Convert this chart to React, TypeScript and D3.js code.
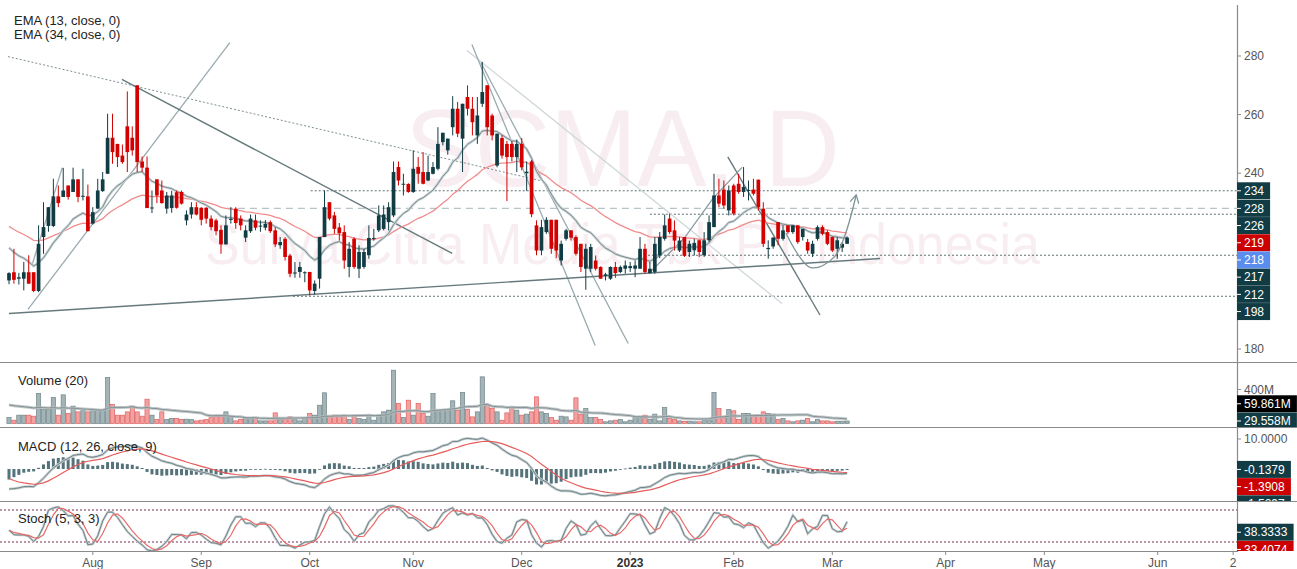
import React from "react";
import * as d3 from "d3";

// ---------------- DATA ----------------
const OPEN = [
  203.4, 206.2, 204, 204, 206.2, 206.2, 199.8, 218.2, 222, 222,
  232.1, 231.9, 235.8, 233.6, 237.9, 232, 232.1, 222.8, 227.9, 233.9,
  239.8, 252.1, 250, 246, 256, 252.1, 270, 244, 241.9, 228,
  237.9, 234.1, 227.9, 228.1, 233.5, 233.6, 223.9, 225.9, 228.4, 228.2,
  228.2, 224.5, 223.9, 220.7, 215.7, 224.1, 227.9, 224.5, 218, 220.2,
  223.9, 221.8, 221.4, 223.3, 220.5, 215.4, 217.6, 211.9, 205.8, 206.3,
  205.9, 206.3, 199.8, 204, 218.2, 230.1, 225.6, 221.5, 219.9, 208,
  217.6, 207.4, 208, 212, 217.6, 220.5, 221, 223.3, 225.6, 242.1,
  236.1, 236.3, 233.6, 242.1, 240.4, 237.5, 239.8, 241.5, 250.6, 247.8,
  255.7, 262, 251.8, 266, 262, 252.9, 263.7, 270, 259.7, 242.6,
  252, 250, 250, 245.5, 250, 240, 244, 222.2, 213.6, 219.9,
  224.1, 224.1, 210.2, 217.6, 220.5, 218.2, 215.9, 207.4, 207.4, 210.2,
  208, 205, 204, 208, 206.3, 207.4, 207.6, 207.4, 207.4, 214.2,
  205.9, 206.3, 211.9, 217.6, 224.5, 220.5, 213.6, 218.2, 213.1, 213.7,
  217.1, 212, 217.1, 221.6, 232.4, 234.4, 227.3, 235.8, 236.4, 233.6,
  234, 234.4, 237.8, 227.9, 214.1, 215, 223.3, 217.6, 222.2, 219.9,
  222.2, 218.2, 216.5, 212.5, 217.6, 221.6, 219.9, 218.2, 214.2, 214.6,
  215.9,
];
const HIGH = [
  206.2, 214.2, 206, 209.7, 212, 206.2, 222.2, 230.1, 228.4, 238.1,
  235.8, 241.8, 235.8, 241.9, 238, 241.5, 236.1, 228.4, 238.1, 240.4,
  260.3, 260.3, 250, 249.8, 267.9, 256, 270, 245.7, 245.7, 234.1,
  237.9, 237.5, 233.6, 234, 234.1, 234.1, 227.3, 230.1, 230.1, 228.4,
  228.4, 225.6, 224.5, 222.2, 225.6, 228.4, 228.4, 225.6, 222.2, 225.9,
  225.9, 223.9, 224, 223.9, 221.6, 218.2, 218.2, 212.5, 209.7, 209.7,
  206.5, 206.3, 203.4, 218.2, 234.1, 230.1, 226.8, 223, 222.2, 216.5,
  218.2, 215.4, 214.2, 222.2, 221, 229, 229, 230.1, 244, 244,
  239.8, 236.6, 247.8, 245.5, 247.2, 246, 243.8, 255.7, 253.8, 251.8,
  266.3, 264.3, 263.7, 270, 266, 266, 278, 270, 260.3, 253.5,
  253, 251, 251, 251.5, 252, 244, 244.5, 223.9, 224.1, 225,
  224.1, 224.1, 217, 221, 220.5, 218.8, 215.9, 215.9, 215.9, 211.9,
  208.2, 206, 208.2, 209.7, 208.5, 210.2, 209.7, 210.2, 218.2, 215.9,
  209.7, 218.2, 219.9, 225.9, 226.2, 223.9, 218.2, 218.2, 217, 217.6,
  217.3, 219.9, 225.6, 239.8, 238.1, 237.5, 235.8, 236.4, 239.8, 242.1,
  237.5, 238.1, 237.8, 230.1, 217.1, 218.2, 223.3, 222.2, 222.2, 222.2,
  222.2, 221, 217.6, 217, 222.2, 222.2, 220.5, 218.4, 218.2, 216.5,
  218.4,
];
const LOW = [
  202.1, 202.3, 202, 200, 202.3, 199.4, 199.4, 212.5, 220, 221.6,
  228.4, 231.9, 231, 233.6, 230.1, 230.7, 220.2, 222.5, 227.9, 233.6,
  239.8, 243.2, 242.1, 243.2, 240.4, 246, 240.4, 240.4, 228.1, 226.4,
  229.8, 229.6, 226.2, 226.5, 227.9, 229.3, 222.2, 224.5, 225.6, 222.2,
  222.8, 220.5, 218.8, 212.5, 215.7, 222.8, 221, 220.5, 216.5, 219.6,
  220.5, 220, 220.5, 219.6, 214.8, 214.2, 210.2, 204.5, 204.3, 204.3,
  202.8, 198.3, 198.6, 200.6, 218.2, 223.9, 219.3, 217, 207.4, 204.5,
  207.4, 204.2, 207.4, 210.8, 217, 219.9, 220.5, 220.5, 225, 235.8,
  232.4, 233.3, 233.3, 236.4, 236.2, 237.3, 239.6, 241, 249.5, 246.3,
  252.9, 252.3, 240.4, 259.7, 252.9, 250, 262.6, 252.9, 251.2, 242,
  245, 230.5, 244, 240.4, 241, 234, 225, 212, 212, 219.3,
  212.5, 211, 208.5, 217, 217, 211.9, 206.3, 200.2, 206.3, 206.8,
  204, 203.4, 203.6, 204.3, 205.9, 205.7, 206.3, 204.5, 207.4, 205.7,
  205.7, 205.7, 211, 217, 219.3, 213.6, 213.1, 211.4, 211.4, 211.9,
  211.4, 211.4, 216.5, 221.6, 228.4, 227.9, 225.6, 225.6, 233, 231.9,
  230.7, 232.4, 227.3, 214.8, 210.8, 214.2, 215.4, 217, 219.3, 219.3,
  215.9, 217, 212.5, 211.4, 217, 218.8, 215.4, 213.1, 210.8, 213.1,
  215.9,
];
const CLOSE = [
  205.9, 203.6, 204.5, 206.2, 202.3, 199.8, 215.9, 221.6, 228.4, 232.1,
  229.8, 234.1, 231.9, 237.9, 231.9, 232.3, 220.2, 226.7, 234.1, 237.9,
  252.1, 247.2, 245.5, 243.8, 247.2, 247.8, 243.8, 241.9, 228.1, 228.3,
  232.4, 229.8, 232.4, 232.4, 228.2, 229.6, 225.9, 228.4, 225.9, 224.1,
  224.5, 221.6, 220.2, 215.7, 222.2, 224.4, 223, 222.2, 220.5, 224.5,
  221.4, 222.1, 222.7, 220.2, 215.7, 216.5, 211.4, 205.7, 206.1, 208,
  206.2, 200, 202.3, 218.2, 228.4, 224.5, 221, 219.5, 210.2, 214.2,
  208, 213.1, 213.1, 217.9, 217.9, 225.6, 225.9, 228.4, 240.4, 237.5,
  236.4, 233.6, 241.5, 239.8, 236.4, 240.4, 242.1, 250, 253.8, 251.8,
  262, 253.5, 263.7, 262, 257.4, 259.7, 267.7, 255.7, 252.9, 253.5,
  246, 245.5, 245.5, 250, 242, 240.5, 226, 213.6, 221.6, 224.1,
  214.2, 213.6, 215.9, 220.5, 218, 212.5, 208, 214.2, 214.8, 207.4,
  204, 205.5, 208, 205.9, 208, 208.5, 208.3, 208.5, 214.2, 206.3,
  207.4, 215.9, 218.2, 222.2, 219.9, 217, 217, 211.8, 215.9, 216.2,
  213.1, 217.1, 223.3, 232.4, 229.6, 229, 234.1, 226.2, 233.6, 235.3,
  234.3, 233, 228.4, 215.9, 214.5, 218, 217.6, 220.5, 219.9, 222.2,
  216.5, 221, 213.6, 215.9, 221.6, 219.3, 215.9, 213.6, 217.1, 215.9,
  218,
];
// volume in millions
const VOLUME = [
  70, 39, 98, 98, 98, 86, 353, 165, 165, 306,
  98, 337, 118, 204, 137, 157, 137, 149, 157, 157,
  541, 223, 98, 98, 137, 204, 137, 86, 286, 98,
  47, 137, 47, 59, 59, 47, 51, 47, 31, 39,
  47, 78, 98, 98, 137, 78, 31, 47, 70, 70,
  70, 31, 31, 31, 125, 47, 47, 78, 47, 31,
  70, 118, 98, 215, 361, 78, 98, 86, 98, 47,
  98, 59, 47, 86, 39, 98, 137, 157, 627, 235,
  70, 274, 98, 235, 118, 86, 353, 150, 165, 157,
  267, 157, 365, 165, 78, 137, 549, 215, 176, 137,
  39, 125, 176, 157, 98, 110, 137, 314, 137, 118,
  70, 39, 86, 78, 39, 302, 110, 176, 70, 70,
  47, 20, 31, 39, 47, 20, 39, 70, 86, 98,
  47, 110, 31, 188, 59, 47, 31, 27, 27, 20,
  20, 39, 39, 365, 176, 70, 165, 149, 47, 118,
  118, 98, 98, 137, 118, 110, 47, 59, 31, 20,
  31, 39, 59, 20, 47, 31, 31, 20, 27, 27,
  29.558,
];

// indicator seeds (values read at the left edge of the reference)
const EMA13_SEED = 216;
const EMA34_SEED = 222.8;
const EMA12_SEED = 208.5;
const EMA26_SEED = 215.5;
const SIGNAL_SEED = -2.3;
const VOLMA_PRIOR = 227;
const STOCH_PRIOR_HIGH = 214;
const STOCH_PRIOR_LOW = 200;

// time axis: bar index of each month start, and its label
const TIME_TICK_INDEX = [17, 39, 61, 82, 104, 126, 147, 167, 190, 210, 233, 248.3];
const TIME_TICK_LABEL = ["Aug", "Sep", "Oct", "Nov", "Dec", "2023", "Feb", "Mar", "Apr", "May", "Jun", "2"];
const PRICE_TICKS = [180, 200, 220, 240, 260, 280];

// right-axis price markers
const PRICE_MARK_VALUE = [234, 228, 226, 219, 218, 217, 212, 198];
const PRICE_MARK_KIND = ["level", "level", "level", "ema", "last", "level", "level", "level"];
const VOL_MARK_VALUE = [59.861, 29.558];
const VOL_MARK_TEXT = ["59.861M", "29.558M"];
const VOL_MARK_KIND = ["ma", "level"];
const MACD_MARK_VALUE = [-0.1379, -1.3908, -1.5297];
const MACD_MARK_KIND = ["level", "ema", "level"];
const STOCH_MARK_VALUE = [38.3333, 33.4074];
const STOCH_MARK_KIND = ["level", "ema"];

// horizontal levels drawn on the chart: price, starting bar
const LEVEL_PRICE = [234, 228, 226, 212, 198];
const LEVEL_START = [61.2, 44, 130, 128, 57.6];
const LEVEL_KIND = ["dot", "dash", "dot", "dot", "dot"];

// trend lines: [i1, p1, i2, p2]
const TRENDLINES = [
  [0, 192.1, 176.7, 210.9],
  [22.9, 272, 89.9, 212.6],
  [145.8, 245.6, 164.5, 191.6],
];
const DOTTED_TREND = [[-0.2, 279.8, 107.7, 237.5]];
const LIGHT_LINES = [
  [3.85, 193.5, 44.8, 284.6],
  [93.9, 283.9, 118.9, 181.2],
  [95.7, 277.8, 125.6, 181.9],
  [4.7, 208.8, 10.8, 241.9],
];
const FAINT_LINES = [[92.9, 281.9, 156.8, 195.5]];
const ZIGZAG_I = [129.8, 137.1, 142.8, 148.7];
const ZIGZAG_P = [205.8, 218.1, 231.4, 242];
const ARROW_I = [157.6, 162.6, 167.5, 171.8];
const ARROW_P = [219.5, 207.8, 211.6, 232.3];

// ---------------- helpers ----------------
function ema(values: number[], period: number, seed: number) {
  const a = 2 / (period + 1);
  let prev = seed;
  return values.map((v) => (prev = prev + a * (v - prev)));
}
function smaWithPrior(values: number[], period: number, prior: number) {
  return values.map((_, i) => {
    let s = 0;
    for (let k = i - period + 1; k <= i; k++) s += k < 0 ? prior : values[k];
    return s / period;
  });
}
function smaPartial(values: number[], period: number) {
  return values.map((_, i) => {
    const from = Math.max(0, i - period + 1);
    const sl = values.slice(from, i + 1);
    return sl.reduce((a, b) => a + b, 0) / sl.length;
  });
}
function textW(s: string) {
  let w = 0;
  for (const ch of s) {
    if (ch === ".") w += 3.4;
    else if (ch === "-") w += 4;
    else if (ch === "M") w += 10;
    else w += 6.7;
  }
  return w;
}
function stackDown(ys: number[], h: number) {
  const out: number[] = [];
  ys.forEach((y, k) => out.push(k === 0 ? y : Math.max(y, out[k - 1] + h)));
  return out;
}
function stackUp(ys: number[], h: number) {
  const out: number[] = new Array(ys.length);
  for (let k = ys.length - 1; k >= 0; k--) {
    out[k] = k === ys.length - 1 ? ys[k] : Math.min(ys[k], out[k + 1] - h);
  }
  return out;
}

const FONT = "'Liberation Sans', Arial, Helvetica, sans-serif";
const UP = "#113c44";
const DOWN = "#d30000";
const AXIS = "#8a8a8a";
const TEXT = "#555";
const KIND_FILL: Record<string, string> = { level: "#113c44", ema: "#cc0000", last: "#5b8def", ma: "#000000" };

export default function App() {
  const AX = 1237;
  const x = d3.scaleLinear().domain([0, 170]).range([9, 9 + 170 * 4.93]);
  const yP = d3.scaleLinear().domain([180, 280]).range([349, 56]);
  const yV = d3.scaleLinear().domain([0, 400]).range([423.5, 389.5]);
  const yM = d3.scaleLinear().domain([-10, 10]).range([499, 439]);
  const yS = d3.scaleLinear().domain([20, 80]).range([542, 510]);

  const ema13 = ema(CLOSE, 13, EMA13_SEED);
  const ema34 = ema(CLOSE, 34, EMA34_SEED);
  const e12 = ema(CLOSE, 12, EMA12_SEED);
  const e26 = ema(CLOSE, 26, EMA26_SEED);
  const macd = e12.map((v, i) => v - e26[i]);
  const signal = ema(macd, 9, SIGNAL_SEED);
  const hist = macd.map((v, i) => v - signal[i]);
  const volMA = smaWithPrior(VOLUME, 20, VOLMA_PRIOR);
  const rawK = CLOSE.map((c, i) => {
    const from = Math.max(0, i - 4);
    let hh = Math.max(...HIGH.slice(from, i + 1));
    let ll = Math.min(...LOW.slice(from, i + 1));
    if (i < 4) {
      hh = Math.max(hh, STOCH_PRIOR_HIGH);
      ll = Math.min(ll, STOCH_PRIOR_LOW);
    }
    return hh === ll ? 50 : ((c - ll) / (hh - ll)) * 100;
  });
  const kLine = smaPartial(rawK, 3);
  const dLine = smaPartial(kLine, 3);

  const lineGen = (ys: (v: number) => number) =>
    d3.line<number>().x((_, i) => x(i)).y((d) => ys(d)).curve(d3.curveLinear);

  const bw = 3.7;
  const candles = CLOSE.map((c, i) => {
    const o = OPEN[i];
    const up = c >= o;
    const col = up ? UP : DOWN;
    const top = yP(Math.max(o, c));
    const bot = yP(Math.min(o, c));
    const cx = x(i);
    return (
      <g key={i}>
        <line x1={cx} x2={cx} y1={yP(HIGH[i])} y2={yP(LOW[i])} stroke={col} strokeWidth={1} />
        <rect x={cx - bw / 2} y={top} width={bw} height={Math.max(1, bot - top)} fill={col} />
      </g>
    );
  });

  const volBars = VOLUME.map((v, i) => {
    const up = CLOSE[i] >= OPEN[i];
    const y0 = yV(v);
    return (
      <rect key={i} x={x(i) - 2.1} y={y0} width={4.2} height={Math.max(0.5, yV(0) - y0)}
        fill={up ? "#a3b3b6" : "#f2a0a0"} stroke={up ? "#6f8589" : "#e06060"} strokeWidth={0.7} />
    );
  });

  const histBars = hist.map((h, i) => {
    const y0 = yM(0);
    const y1 = yM(h);
    return (
      <rect key={i} x={x(i) - 1.5} y={Math.min(y0, y1)} width={3} height={Math.max(0.8, Math.abs(y1 - y0))} fill="#55737a" />
    );
  });

  const seg = (l: number[], key: string, stroke: string, w: number, dash?: string) => (
    <line key={key} x1={x(l[0])} y1={yP(l[1])} x2={x(l[2])} y2={yP(l[3])} stroke={stroke} strokeWidth={w} strokeDasharray={dash} />
  );

  const zigzag = d3.line<number>().x((_, k) => x(ZIGZAG_I[k])).y((p) => yP(p))(ZIGZAG_P) || "";
  const arrow = d3.line<number>().x((_, k) => x(ARROW_I[k])).y((p) => yP(p)).curve(d3.curveCatmullRom)(ARROW_P) || "";

  const markBox = (yc: number, label: string, fill: string, key: string) => {
    const w = textW(label) + 13;
    return (
      <g key={key}>
        <rect x={AX} y={yc - 8.5} width={w} height={17} fill={fill} />
        <line x1={AX} x2={AX + 4} y1={yc} y2={yc} stroke="#fff" strokeWidth={1} />
        <text x={AX + 7} y={yc} dy="0.35em" fontSize={12} fill="#fff" fontFamily={FONT}>{label}</text>
      </g>
    );
  };

  const MARK_STEP = 17.2;
  const priceMarkY = stackDown(PRICE_MARK_VALUE.map((v) => yP(v)), MARK_STEP);
  const volMarkY = stackUp(VOL_MARK_VALUE.map((v) => yV(v)), MARK_STEP);
  const macdMarkY = stackDown(MACD_MARK_VALUE.map((v) => yM(v)), MARK_STEP);
  const stochMarkY = stackDown(STOCH_MARK_VALUE.map((v) => yS(v)), MARK_STEP);

  // only show price ticks that are not covered by a marker box
  const visibleTicks = PRICE_TICKS.filter((p) => priceMarkY.every((my) => Math.abs(my - yP(p)) > 14));

  return (
    <svg width={1297} height={569} style={{ position: "fixed", left: 0, top: 0, background: "#fff" }} fontFamily={FONT}>
      <defs>
        <clipPath id="cp-price"><rect x={0} y={0} width={AX} height={362} /></clipPath>
        <clipPath id="cp-vol"><rect x={0} y={363} width={AX} height={64} /></clipPath>
        <clipPath id="cp-macd"><rect x={0} y={428} width={AX} height={73} /></clipPath>
        <clipPath id="cp-stoch"><rect x={0} y={502} width={AX} height={49} /></clipPath>
        <clipPath id="lp-price"><rect x={AX} y={0} width={60} height={362} /></clipPath>
        <clipPath id="lp-vol"><rect x={AX} y={363} width={60} height={64} /></clipPath>
        <clipPath id="lp-macd"><rect x={AX} y={428} width={60} height={73} /></clipPath>
        <clipPath id="lp-stoch"><rect x={AX} y={502} width={60} height={49} /></clipPath>
        <marker id="arrowhead" viewBox="0 0 10 10" refX="8" refY="5" markerWidth="7" markerHeight="7" orient="auto-start-reverse">
          <path d="M0,0 L9,5 L0,10" fill="none" stroke="#7f9296" strokeWidth={1.4} />
        </marker>
      </defs>
      <rect x={0} y={0} width={1297} height={569} fill="#fff" />

      {/* watermark */}
      <text x={405} y={186} fontSize={110} fill="#f8eef2" textLength={435} lengthAdjust="spacingAndGlyphs">SCMA, D</text>
      <text x={205} y={264} fontSize={58} fill="#f8eef2" textLength={835} lengthAdjust="spacingAndGlyphs">Surya Citra Media Tbk PT Indonesia</text>

      {/* price pane */}
      <g clipPath="url(#cp-price)">
        {LEVEL_PRICE.map((p, k) => (
          <line key={"lv" + k} x1={x(LEVEL_START[k])} x2={AX} y1={yP(p)} y2={yP(p)}
            stroke={LEVEL_KIND[k] === "dash" ? "#b7c3c6" : "#5e6f73"}
            strokeWidth={LEVEL_KIND[k] === "dash" ? 1.3 : 1}
            strokeDasharray={LEVEL_KIND[k] === "dash" ? "7,5" : "2,2"} />
        ))}
        {FAINT_LINES.map((l, k) => seg(l, "f" + k, "#cfd7d9", 1.3))}
        {DOTTED_TREND.map((l, k) => seg(l, "d" + k, "#7d8f93", 1, "2,2"))}
        {LIGHT_LINES.map((l, k) => seg(l, "l" + k, "#9aabaf", 1.3))}
        {TRENDLINES.map((l, k) => seg(l, "t" + k, "#667a7e", 1.4))}
        <path d={zigzag} fill="none" stroke="#8a9ca0" strokeWidth={1.3} />
        <path d={lineGen(yP)(ema34) || ""} fill="none" stroke="#f08c8c" strokeWidth={1.3} />
        <path d={lineGen(yP)(ema13) || ""} fill="none" stroke="#c9d2d4" strokeWidth={2.6} />
        <path d={lineGen(yP)(ema13) || ""} fill="none" stroke="#7b8f93" strokeWidth={1} />
        {candles}
        <path d={arrow} fill="none" stroke="#7f9296" strokeWidth={1.3} markerEnd="url(#arrowhead)" />
      </g>

      {/* volume pane */}
      <g clipPath="url(#cp-vol)">
        {volBars}
        <path d={lineGen(yV)(volMA) || ""} fill="none" stroke="#b5bdbf" strokeWidth={3} opacity={0.85} />
        <path d={lineGen(yV)(volMA) || ""} fill="none" stroke="#7f8b8e" strokeWidth={0.9} />
      </g>

      {/* macd pane */}
      <g clipPath="url(#cp-macd)">
        {histBars}
        <path d={lineGen(yM)(macd) || ""} fill="none" stroke="#c3ccce" strokeWidth={2.6} />
        <path d={lineGen(yM)(macd) || ""} fill="none" stroke="#6f8488" strokeWidth={1} />
        <path d={lineGen(yM)(signal) || ""} fill="none" stroke="#e65c5c" strokeWidth={1.2} />
      </g>

      {/* stoch pane */}
      <g clipPath="url(#cp-stoch)">
        {[80, 20].map((v) => (
          <line key={"s" + v} x1={0} x2={AX} y1={yS(v)} y2={yS(v)} stroke="#7a2e52" strokeWidth={1} strokeDasharray="2,2" />
        ))}
        <path d={lineGen(yS)(kLine) || ""} fill="none" stroke="#c3ccce" strokeWidth={2.4} />
        <path d={lineGen(yS)(kLine) || ""} fill="none" stroke="#6f8488" strokeWidth={1} />
        <path d={lineGen(yS)(dLine) || ""} fill="none" stroke="#e86a6a" strokeWidth={1.2} />
      </g>

      {/* separators and axes */}
      {[362.5, 427.5, 501.5].map((y) => (
        <line key={"sep" + y} x1={0} x2={1297} y1={y} y2={y} stroke={AXIS} strokeWidth={1.2} />
      ))}
      <line x1={0} x2={AX} y1={551.5} y2={551.5} stroke={AXIS} strokeWidth={1.2} />
      <line x1={AX + 0.5} x2={AX + 0.5} y1={5} y2={552} stroke={AXIS} strokeWidth={1.2} />

      {/* price axis */}
      {visibleTicks.map((p) => (
        <g key={"pt" + p}>
          <line x1={AX} x2={AX + 4} y1={yP(p)} y2={yP(p)} stroke={AXIS} />
          <text x={AX + 7} y={yP(p)} dy="0.35em" fontSize={12} fill={TEXT}>{p}</text>
        </g>
      ))}
      <g>
        <line x1={AX} x2={AX + 4} y1={yV(400)} y2={yV(400)} stroke={AXIS} />
        <text x={AX + 7} y={yV(400)} dy="0.35em" fontSize={12} fill={TEXT}>400M</text>
        <line x1={AX} x2={AX + 4} y1={yM(10)} y2={yM(10)} stroke={AXIS} />
        <text x={AX + 7} y={yM(10)} dy="0.35em" fontSize={12} fill={TEXT}>10.0000</text>
      </g>

      {/* right markers */}
      <g clipPath="url(#lp-price)">
        {PRICE_MARK_VALUE.map((v, k) => markBox(priceMarkY[k], String(v), KIND_FILL[PRICE_MARK_KIND[k]], "pm" + k))}
      </g>
      <g clipPath="url(#lp-vol)">
        {VOL_MARK_TEXT.map((t, k) => markBox(volMarkY[k], t, KIND_FILL[VOL_MARK_KIND[k]], "vm" + k))}
      </g>
      <g clipPath="url(#lp-macd)">
        {MACD_MARK_VALUE.map((v, k) => markBox(macdMarkY[k], v.toFixed(4), KIND_FILL[MACD_MARK_KIND[k]], "mm" + k))}
      </g>
      <g clipPath="url(#lp-stoch)">
        {STOCH_MARK_VALUE.map((v, k) => markBox(stochMarkY[k], v.toFixed(4), KIND_FILL[STOCH_MARK_KIND[k]], "sm" + k))}
      </g>

      {/* time axis */}
      {TIME_TICK_INDEX.map((ti, k) => (
        <g key={"tt" + k}>
          <line x1={x(ti)} x2={x(ti)} y1={551.5} y2={555} stroke={AXIS} />
          <text x={x(ti)} y={563} dy="0.35em" textAnchor="middle" fontSize={12}
            fill={TIME_TICK_LABEL[k] === "2023" ? "#333" : TEXT}
            fontWeight={TIME_TICK_LABEL[k] === "2023" ? "bold" : "normal"}>{TIME_TICK_LABEL[k]}</text>
        </g>
      ))}

      {/* legends */}
      <text x={14} y={20} dy="0.35em" fontSize={13} fill="#222">EMA (13, close, 0)</text>
      <text x={14} y={34} dy="0.35em" fontSize={13} fill="#222">EMA (34, close, 0)</text>
      <text x={18} y={380} dy="0.35em" fontSize={13} fill="#222">Volume (20)</text>
      <text x={18} y={446} dy="0.35em" fontSize={13} fill="#222">MACD (12, 26, close, 9)</text>
      <text x={18} y={518} dy="0.35em" fontSize={13} fill="#222">Stoch (5, 3, 3)</text>
    </svg>
  );
}
